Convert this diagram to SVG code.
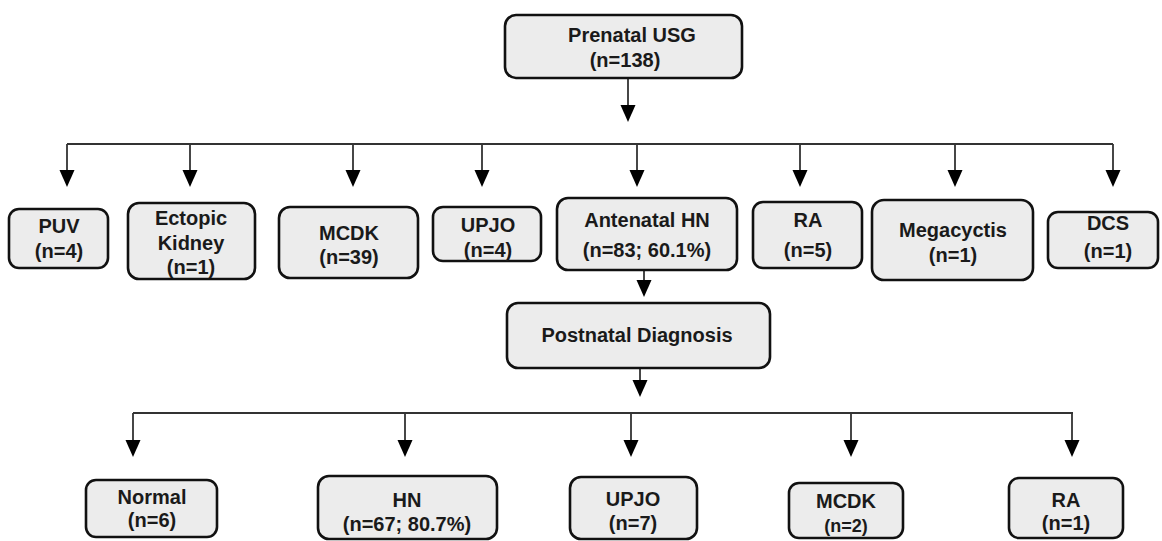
<svg xmlns="http://www.w3.org/2000/svg" width="1162" height="541" viewBox="0 0 1162 541">
<style>
.box{fill:#ececec;stroke:#111;stroke-width:2.6}
.t{font-family:"Liberation Sans",Arial,sans-serif;font-weight:bold;font-size:20px;fill:#1a1a1a;text-anchor:middle}
.s{font-size:18px}
.ln{stroke:#333;stroke-width:1.8;fill:none}
.ah{fill:#000}
</style>
<defs>
<polygon id="head" class="ah" points="-7.5,0 7.5,0 0,17"/>
</defs>
<rect width="1162" height="541" fill="#fff"/>
<g id="connectors">
<path class="ln" d="M628 78V106 M67 144H1113 M67 144V171 M190 144V171 M353 144V171 M482 144V171 M637 144V171 M800 144V171 M955 144V171 M1113 144V171 M644 270V281 M640 368V381 M133 413H1073 M133 413V441 M405 413V441 M631 413V441 M851 413V441 M1072 413V441"/>
<use href="#head" x="628" y="105"/>
<use href="#head" x="67" y="170"/>
<use href="#head" x="190" y="170"/>
<use href="#head" x="353" y="170"/>
<use href="#head" x="482" y="170"/>
<use href="#head" x="637" y="170"/>
<use href="#head" x="800" y="170"/>
<use href="#head" x="955" y="170"/>
<use href="#head" x="1113" y="170"/>
<use href="#head" x="644" y="280"/>
<use href="#head" x="640" y="380"/>
<use href="#head" x="133" y="440"/>
<use href="#head" x="405" y="440"/>
<use href="#head" x="631" y="440"/>
<use href="#head" x="851" y="440"/>
<use href="#head" x="1072" y="440"/>
</g>
<g id="prenatal"><rect class="box" x="505" y="15" width="237" height="63" rx="11"/><text class="t" x="632" y="42">Prenatal USG</text><text class="t" x="625" y="67">(n=138)</text></g>
<g id="puv"><rect class="box" x="9" y="209" width="99" height="59" rx="10"/><text class="t" x="59" y="233">PUV</text><text class="t" x="59" y="258">(n=4)</text></g>
<g id="ectopic"><rect class="box" x="128" y="203" width="127" height="76" rx="11"/><text class="t" x="191" y="225">Ectopic</text><text class="t" x="191" y="250">Kidney</text><text class="t" x="191" y="274">(n=1)</text></g>
<g id="mcdk1"><rect class="box" x="279" y="207" width="139" height="71" rx="11"/><text class="t" x="349" y="240">MCDK</text><text class="t" x="349" y="264">(n=39)</text></g>
<g id="upjo1"><rect class="box" x="433" y="207" width="108" height="54" rx="10"/><text class="t" x="488" y="232">UPJO</text><text class="t" x="488" y="257">(n=4)</text></g>
<g id="antenatal"><rect class="box" x="557" y="198" width="180" height="72" rx="11"/><text class="t" x="647" y="227">Antenatal HN</text><text class="t" x="647" y="257">(n=83; 60.1%)</text></g>
<g id="ra1"><rect class="box" x="753" y="202" width="109" height="66" rx="10"/><text class="t" x="808" y="227">RA</text><text class="t" x="808" y="257">(n=5)</text></g>
<g id="mega"><rect class="box" x="872" y="200" width="161" height="80" rx="12"/><text class="t" x="953" y="237">Megacyctis</text><text class="t" x="953" y="262">(n=1)</text></g>
<g id="dcs"><rect class="box" x="1048" y="212" width="110" height="56" rx="10"/><text class="t" x="1108" y="230">DCS</text><text class="t" x="1108" y="258">(n=1)</text></g>
<g id="postnatal"><rect class="box" x="507" y="303" width="263" height="65" rx="11"/><text class="t" x="637" y="342">Postnatal Diagnosis</text></g>
<g id="normal"><rect class="box" x="86" y="480" width="131" height="57" rx="10"/><text class="t" x="152" y="504">Normal</text><text class="t" x="152" y="527">(n=6)</text></g>
<g id="hn"><rect class="box" x="318" y="476" width="179" height="63" rx="11"/><text class="t" x="407" y="507">HN</text><text class="t" x="407" y="531">(n=67; 80.7%)</text></g>
<g id="upjo2"><rect class="box" x="570" y="477" width="127" height="62" rx="11"/><text class="t" x="633" y="506">UPJO</text><text class="t" x="633" y="530">(n=7)</text></g>
<g id="mcdk2"><rect class="box" x="789" y="483" width="114" height="55" rx="10"/><text class="t" x="846" y="508">MCDK</text><text class="t s" x="846" y="532">(n=2)</text></g>
<g id="ra2"><rect class="box" x="1009" y="478" width="114" height="60" rx="10"/><text class="t" x="1066" y="507">RA</text><text class="t" x="1066" y="530">(n=1)</text></g>
</svg>
